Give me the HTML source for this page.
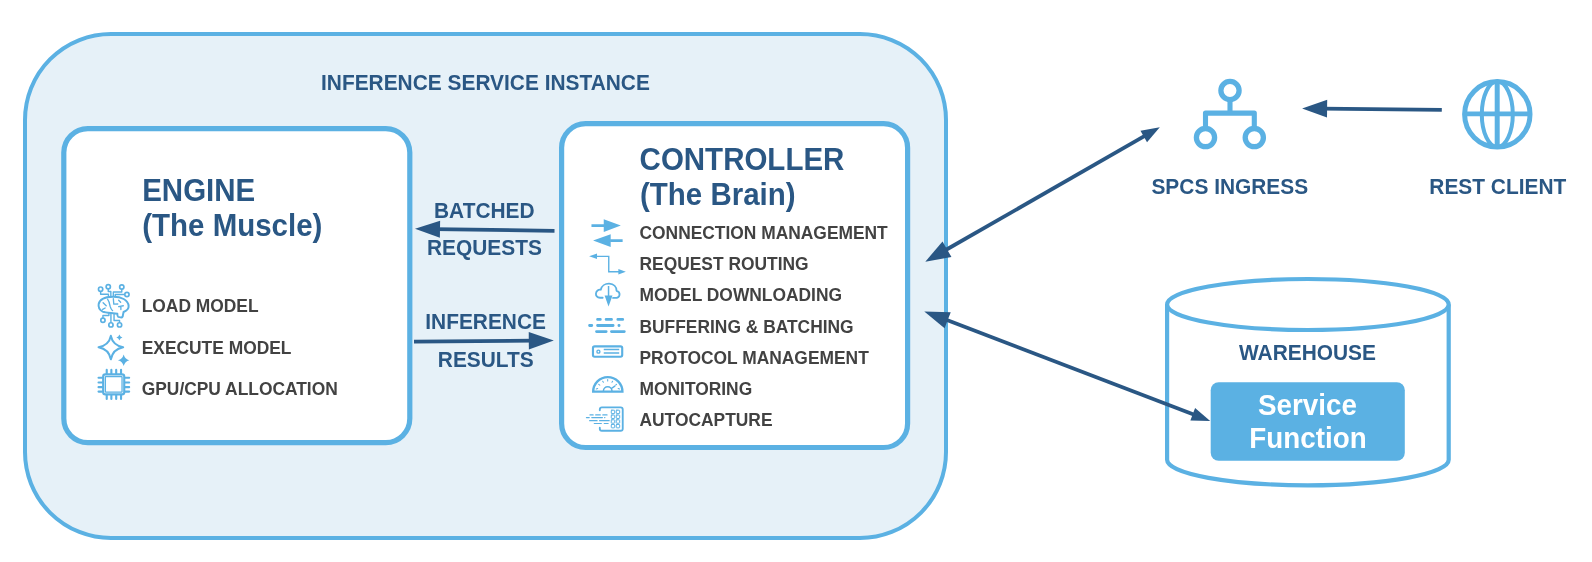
<!DOCTYPE html>
<html><head><meta charset="utf-8"><style>
html,body{margin:0;padding:0;background:#fff;width:1592px;height:562px;overflow:hidden}
svg{display:block;font-family:"Liberation Sans", sans-serif}
svg{will-change:transform}
</style></head><body>
<svg width="1592" height="562" viewBox="0 0 1592 562">
<rect x="25" y="34" width="921" height="504" rx="86" ry="86" fill="#E6F1F8" stroke="#5BB1E3" stroke-width="4"/>
<rect x="63.8" y="128.6" width="346" height="314" rx="24" ry="24" fill="#fff" stroke="#5BB1E3" stroke-width="5.2"/>
<rect x="561.6" y="123.7" width="346" height="323.8" rx="24" ry="24" fill="#fff" stroke="#5BB1E3" stroke-width="5.2"/>
<text transform="translate(321,89.7) scale(1,1.085)" font-size="20.9" fill="#2A5784" text-anchor="start" font-weight="700">INFERENCE SERVICE INSTANCE</text>
<text transform="translate(142.2,200.5) scale(1,1.085)" font-size="29.5" fill="#2A5784" text-anchor="start" font-weight="700">ENGINE</text>
<text transform="translate(142.2,235.6) scale(1,1.085)" font-size="29.5" fill="#2A5784" text-anchor="start" font-weight="700">(The Muscle)</text>
<text transform="translate(639.6,170.1) scale(1,1.085)" font-size="29.5" fill="#2A5784" text-anchor="start" font-weight="700">CONTROLLER</text>
<text transform="translate(640,205.1) scale(1,1.085)" font-size="29.5" fill="#2A5784" text-anchor="start" font-weight="700">(The Brain)</text>
<text transform="translate(141.7,312) scale(1,1.085)" font-size="17.4" fill="#424242" text-anchor="start" font-weight="700">LOAD MODEL</text>
<text transform="translate(141.7,353.7) scale(1,1.085)" font-size="17.4" fill="#424242" text-anchor="start" font-weight="700">EXECUTE MODEL</text>
<text transform="translate(141.7,395.4) scale(1,1.085)" font-size="17.4" fill="#424242" text-anchor="start" font-weight="700">GPU/CPU ALLOCATION</text>
<text transform="translate(639.5,239.0) scale(1,1.085)" font-size="17.4" fill="#424242" text-anchor="start" font-weight="700">CONNECTION MANAGEMENT</text>
<text transform="translate(639.5,270.2) scale(1,1.085)" font-size="17.4" fill="#424242" text-anchor="start" font-weight="700">REQUEST ROUTING</text>
<text transform="translate(639.5,301.4) scale(1,1.085)" font-size="17.4" fill="#424242" text-anchor="start" font-weight="700">MODEL DOWNLOADING</text>
<text transform="translate(639.5,332.6) scale(1,1.085)" font-size="17.4" fill="#424242" text-anchor="start" font-weight="700">BUFFERING &amp; BATCHING</text>
<text transform="translate(639.5,363.8) scale(1,1.085)" font-size="17.4" fill="#424242" text-anchor="start" font-weight="700">PROTOCOL MANAGEMENT</text>
<text transform="translate(639.5,395.0) scale(1,1.085)" font-size="17.4" fill="#424242" text-anchor="start" font-weight="700">MONITORING</text>
<text transform="translate(639.5,426.2) scale(1,1.085)" font-size="17.4" fill="#424242" text-anchor="start" font-weight="700">AUTOCAPTURE</text>
<text transform="translate(484.3,217.8) scale(1,1.085)" font-size="20.9" fill="#2A5784" text-anchor="middle" font-weight="700">BATCHED</text>
<text transform="translate(484.4,255.4) scale(1,1.085)" font-size="20.9" fill="#2A5784" text-anchor="middle" font-weight="700">REQUESTS</text>
<text transform="translate(485.6,329.3) scale(1,1.085)" font-size="20.9" fill="#2A5784" text-anchor="middle" font-weight="700">INFERENCE</text>
<text transform="translate(485.8,366.9) scale(1,1.085)" font-size="20.9" fill="#2A5784" text-anchor="middle" font-weight="700">RESULTS</text>
<text transform="translate(1229.8,193.8) scale(1,1.085)" font-size="20.9" fill="#2A5784" text-anchor="middle" font-weight="700">SPCS INGRESS</text>
<text transform="translate(1497.8,193.7) scale(1,1.085)" font-size="20.9" fill="#2A5784" text-anchor="middle" font-weight="700">REST CLIENT</text>
<path d="M1167.1000000000001,304.5 L1167.1000000000001,459.8 A140.8,25.5 0 0 0 1448.7,459.8 L1448.7,304.5" fill="#fff" stroke="#5BB1E3" stroke-width="4.2"/>
<ellipse cx="1307.9" cy="304.5" rx="140.8" ry="25.5" fill="#fff" stroke="#5BB1E3" stroke-width="4.2"/>
<text transform="translate(1307.5,360.1) scale(1,1.085)" font-size="20.9" fill="#2A5784" text-anchor="middle" font-weight="700">WAREHOUSE</text>
<rect x="1210.7" y="382.2" width="194.1" height="78.6" rx="8" ry="8" fill="#5BB1E3"/>
<text transform="translate(1307.5,415.1) scale(1,1.085)" font-size="27.8" fill="#fff" text-anchor="middle" font-weight="700">Service</text>
<text transform="translate(1308,448.3) scale(1,1.085)" font-size="27.8" fill="#fff" text-anchor="middle" font-weight="700">Function</text>
<line x1="554.50" y1="230.80" x2="435.00" y2="229.09" stroke="#2A5784" stroke-width="3.7"/><polygon points="415.00,228.80 440.12,220.66 439.88,237.66" fill="#2A5784"/>
<line x1="414.00" y1="341.70" x2="533.80" y2="340.67" stroke="#2A5784" stroke-width="3.7"/><polygon points="553.80,340.50 528.88,349.41 528.73,332.01" fill="#2A5784"/>
<line x1="1441.80" y1="109.90" x2="1322.10" y2="108.61" stroke="#2A5784" stroke-width="3.7"/><polygon points="1302.10,108.40 1327.19,99.87 1327.00,117.47" fill="#2A5784"/>
<line x1="942.65" y1="251.75" x2="1146.96" y2="134.66" stroke="#2A5784" stroke-width="3.8"/><polygon points="1159.80,127.30 1147.03,142.23 1140.47,130.77" fill="#2A5784"/><polygon points="925.30,261.70 942.51,241.46 951.47,257.08" fill="#2A5784"/>
<line x1="942.98" y1="318.55" x2="1196.23" y2="415.55" stroke="#2A5784" stroke-width="3.8"/><polygon points="1210.20,420.90 1190.38,420.38 1195.10,408.05" fill="#2A5784"/><polygon points="924.30,311.40 950.72,312.31 944.57,328.37" fill="#2A5784"/>
<g fill="none" stroke="#5BB1E3" stroke-width="5.3"><circle cx="1230" cy="90.5" r="9.1"/><circle cx="1205.5" cy="137.6" r="9.1"/><circle cx="1254.3" cy="137.6" r="9.1"/></g>
<path d="M1230,101 V113.1 M1205.5,127 V113.1 H1254.3 V127" fill="none" stroke="#5BB1E3" stroke-width="5.1" stroke-linecap="square" stroke-linejoin="round"/>
<g fill="none" stroke="#5BB1E3"><circle cx="1497.3" cy="114.3" r="32.7" stroke-width="5"/><ellipse cx="1497.3" cy="114.3" rx="15.5" ry="32.7" stroke-width="4"/><line x1="1497.2" y1="82" x2="1497.2" y2="147" stroke-width="5"/><line x1="1465" y1="113.9" x2="1530" y2="113.9" stroke-width="4.6"/></g>
<g transform="translate(92,280) scale(0.08889)" fill="none" stroke="#5BB1E3" stroke-linecap="round" stroke-linejoin="round"><circle cx="97" cy="103" r="24" stroke-width="19"/><circle cx="183" cy="75" r="24" stroke-width="19"/><circle cx="335" cy="78" r="24" stroke-width="19"/><circle cx="393" cy="163" r="24" stroke-width="19"/><circle cx="123" cy="453" r="24" stroke-width="19"/><circle cx="213" cy="505" r="24" stroke-width="19"/><circle cx="310" cy="505" r="24" stroke-width="19"/><path stroke-width="22" d="M285,380 C250,368 160,372 120,355 C80,335 70,300 75,270 C85,220 150,190 235,188 C330,186 405,225 412,290 C415,320 390,345 355,360 L345,410 C340,420 330,422 320,420 L295,415 C285,410 285,395 285,380 Z"/><path stroke-width="15" d="M175,215 C195,240 200,270 205,300 C210,320 220,335 232,345 M125,255 L160,290 M120,330 L148,315 M240,210 L245,272 L290,270 M300,228 L322,250 M300,300 L352,290 M325,300 L325,332"/><path stroke-width="16" stroke-linecap="butt" d="M97,127 V160 H185 V195 M183,99 V130 H212 V192 M335,102 V135 H240 V192 M369,163 H262 V192 M190,372 V400 H123 V429 M213,372 V481 M248,382 V455 H310 V481"/></g>
<g transform="translate(92,330) scale(0.07117)" fill="none" stroke="#5BB1E3" stroke-linecap="round" stroke-linejoin="round"><path stroke-width="29" d="M265,82 Q292,215 438,242 Q292,269 265,412 Q238,269 92,242 Q238,215 265,82 Z"/><path fill="#5BB1E3" stroke="none" d="M385,62 Q395,95 428,105 Q395,115 385,148 Q375,115 342,105 Q375,95 385,62 Z M445,345 Q462,408 525,425 Q462,442 445,505 Q428,442 365,425 Q428,408 445,345 Z"/></g>
<g transform="translate(92,366) scale(0.07117)" fill="none" stroke="#5BB1E3" stroke-linecap="round" stroke-linejoin="round"><rect x="157" y="117" width="296" height="281" rx="30" stroke-width="30"/><rect x="188" y="148" width="234" height="219" rx="4" stroke-width="18"/><path stroke-width="30" d="M207,55 V105 M207,410 V462 M272,55 V105 M272,410 V462 M340,55 V105 M340,410 V462 M408,55 V105 M408,410 V462 M92,165 H145 M465,165 H522 M92,232 H145 M465,232 H522 M92,297 H145 M465,297 H522 M92,360 H145 M465,360 H522 "/></g>
<g transform="translate(584,216) scale(0.10672)" fill="none" stroke="#5BB1E3" stroke-linecap="round" stroke-linejoin="round"><path stroke-width="25" stroke-linecap="butt" d="M70,90 H190 M362,230 H245"/><path fill="#5BB1E3" stroke="none" d="M185,30 L345,90 L185,150 Z M250,170 L85,230 L250,290 Z"/><path stroke-width="13" stroke-linecap="butt" stroke-linejoin="miter" d="M115,378 H232 V522 H330"/><path fill="#5BB1E3" stroke="none" d="M48,378 L122,352 L122,404 Z M392,522 L322,496 L322,548 Z"/></g>
<g transform="translate(584,278) scale(0.10672)" fill="none" stroke="#5BB1E3" stroke-linecap="round" stroke-linejoin="round"><path stroke-width="17" d="M175,185 L150,185 C122,185 110,165 112,145 C115,120 135,105 157,110 C165,72 200,52 235,53 C280,55 305,85 305,120 C325,125 335,140 333,158 C330,178 315,187 290,187 L272,187"/><path stroke-width="14" stroke-linecap="butt" d="M230,75 V180"/><path fill="#5BB1E3" stroke="none" d="M193,163 L267,163 L230,268 Z"/><path stroke-width="26" d="M127,388 H153 M207,388 H258 M317,388 H363 M52,445 H73 M127,445 H273 M327,445 H329 M117,502 H208 M257,502 H378"/></g>
<g transform="translate(584,338) scale(0.10672)" fill="none" stroke="#5BB1E3" stroke-linecap="round" stroke-linejoin="round"><rect x="84" y="78" width="274" height="98" rx="16" stroke-width="20"/><circle cx="135" cy="128" r="14" stroke-width="13"/><path stroke-width="13" stroke-linecap="butt" d="M185,108 H330 M185,140 H330"/><path stroke-width="22" stroke-linejoin="miter" stroke-linecap="butt" d="M86,503 A137,137 0 0 1 360,503 Z"/><path stroke-width="14" stroke-linecap="butt" d="M182,497 A40,40 0 0 1 262,497 M250,478 L292,448"/><path stroke-width="10" d="M115,478 L128,473 M138,435 L148,442 M175,405 L182,415 M222,390 L222,402 M268,405 L262,415 M305,435 L296,442 M333,478 L320,473"/></g>
<g transform="translate(580,398) scale(0.07123)" fill="none" stroke="#5BB1E3" stroke-linecap="round" stroke-linejoin="round"><path stroke-width="26" d="M278,172 L278,162 Q278,132 308,132 L570,132 Q600,132 600,162 L600,430 Q600,460 570,460 L308,460 Q278,460 278,430 L278,418"/><rect x="439" y="171" width="48" height="48" rx="8" stroke-width="14"/><rect x="439" y="239" width="48" height="48" rx="8" stroke-width="14"/><rect x="439" y="306" width="48" height="48" rx="8" stroke-width="14"/><rect x="439" y="371" width="48" height="48" rx="8" stroke-width="14"/><rect x="509" y="171" width="48" height="48" rx="8" stroke-width="14"/><rect x="509" y="239" width="48" height="48" rx="8" stroke-width="14"/><rect x="509" y="306" width="48" height="48" rx="8" stroke-width="14"/><rect x="509" y="371" width="48" height="48" rx="8" stroke-width="14"/><path stroke-width="16" d="M140,237 H185 M220,237 H285 M320,237 H380 M90,275 H130 M165,275 H315 M345,275 H350 M135,318 H240 M275,318 H410 M200,358 H300 M340,358 H395"/></g>
</svg>
</body></html>
